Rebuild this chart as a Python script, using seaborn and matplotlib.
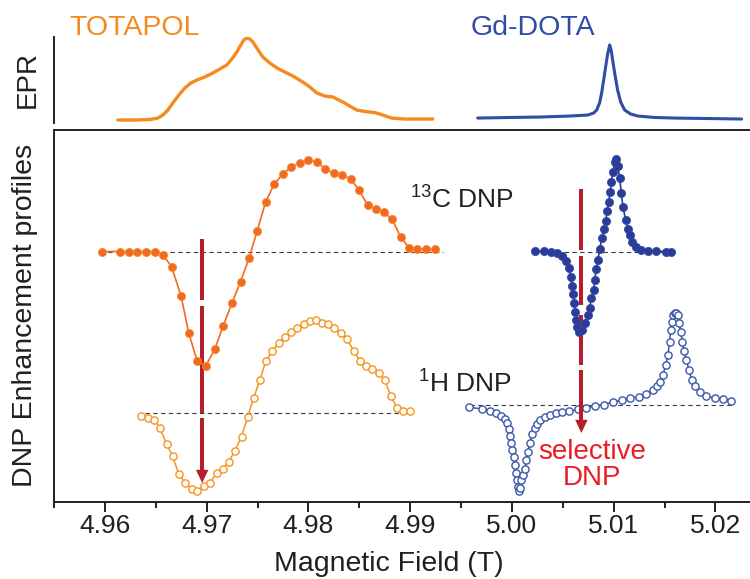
import matplotlib
matplotlib.use("Agg")
import numpy as np
import pandas as pd
import matplotlib.pyplot as plt
from matplotlib.ticker import MultipleLocator, FormatStrFormatter
import seaborn as sns

sns.set_theme(style="white")
plt.rcParams["font.family"] = ["Liberation Sans", "DejaVu Sans"]
plt.rcParams["mathtext.fontset"] = "custom"
plt.rcParams["mathtext.rm"] = "Liberation Sans"
plt.rcParams["mathtext.default"] = "regular"

# ---------------- EPR spectra (normalised intensity) ----------------
epr_totapol_field = [4.96128, 4.96295, 4.96442, 4.96521, 4.96570, 4.96619, 4.96668, 4.96727,
                     4.96786, 4.96845, 4.96904, 4.96982, 4.97061, 4.97130, 4.97198, 4.97248,
                     4.97297, 4.97336, 4.97365, 4.97395, 4.97424, 4.97454, 4.97493, 4.97552,
                     4.97621, 4.97690, 4.97768, 4.97847, 4.97945, 4.98014, 4.98083, 4.98161,
                     4.98240, 4.98338, 4.98407, 4.98475, 4.98554, 4.98652, 4.98731, 4.98819,
                     4.98947, 4.99094, 4.99222]
epr_totapol_int = [-0.012, -0.012, -0.006, 0.012, 0.049, 0.111, 0.198, 0.296, 0.383, 0.444,
                   0.481, 0.519, 0.568, 0.617, 0.667, 0.741, 0.827, 0.914, 0.975, 1.000,
                   0.988, 0.951, 0.877, 0.765, 0.691, 0.630, 0.580, 0.531, 0.457, 0.395,
                   0.321, 0.284, 0.272, 0.210, 0.160, 0.111, 0.093, 0.080, 0.049, 0.012,
                   0.0, 0.0, 0.0]

epr_gd_field = [4.99664, 4.99978, 5.00293, 5.00568, 5.00745, 5.00804, 5.00833, 5.00862,
                5.00882, 5.00902, 5.00921, 5.00941, 5.00961, 5.00975, 5.00990, 5.01010,
                5.01039, 5.01069, 5.01108, 5.01167, 5.01236, 5.01403, 5.01599, 5.01943,
                5.02257]
epr_gd_int = [0.012, 0.019, 0.025, 0.037, 0.049, 0.074, 0.111, 0.198, 0.321, 0.481, 0.642,
              0.802, 0.914, 0.852, 0.728, 0.568, 0.358, 0.210, 0.111, 0.062, 0.037, 0.019,
              0.012, 0.006, 0.0]

# ---------------- DNP enhancement profiles (relative to each baseline) ----------------
c13_totapol_field = [4.95968, 4.96147, 4.96236, 4.96317, 4.96403, 4.96488, 4.96573, 4.96655,
                     4.96749, 4.96825, 4.96907, 4.96992, 4.97081, 4.97162, 4.97248, 4.97333,
                     4.97417, 4.97496, 4.97579, 4.97663, 4.97746, 4.97827, 4.97916, 4.98001,
                     4.98080, 4.98168, 4.98250, 4.98335, 4.98417, 4.98498, 4.98581, 4.98662,
                     4.98741, 4.98822, 4.98908, 4.98989, 4.99072, 4.99160, 4.99242]
c13_totapol_enh = [0.0, 0.0, 0.0, 0.0, 0.0, 0.0, -0.35, -1.52, -4.45, -8.18, -10.95, -11.42,
                   -9.75, -7.45, -5.18, -3.02, -0.68, 2.05, 4.92, 6.72, 7.72, 8.42, 8.88, 9.15,
                   8.98, 8.25, 7.82, 7.65, 7.22, 6.15, 4.65, 4.25, 3.92, 3.25, 1.42, 0.38,
                   0.28, 0.25, 0.22]

h1_totapol_field = [4.96354, 4.96419, 4.96481, 4.96540, 4.96606, 4.96665, 4.96727, 4.96789,
                    4.96852, 4.96907, 4.96972, 4.97031, 4.97097, 4.97156, 4.97218, 4.97277,
                    4.97343, 4.97402, 4.97461, 4.97523, 4.97582, 4.97647, 4.97709, 4.97775,
                    4.97834, 4.97893, 4.97955, 4.98014, 4.98073, 4.98135, 4.98193, 4.98252,
                    4.98318, 4.98380, 4.98446, 4.98505, 4.98564, 4.98626, 4.98691, 4.98750,
                    4.98809, 4.98871, 4.98930, 4.98996]
h1_totapol_enh = [-0.33, -0.50, -0.73, -1.50, -3.13, -4.33, -6.16, -7.00, -7.66, -7.80,
                  -7.33, -7.06, -6.06, -5.63, -4.90, -3.80, -2.40, -0.46, 1.44, 3.27,
                  5.17, 6.17, 7.00, 7.60, 8.10, 8.50, 8.84, 9.17, 9.27, 8.94,
                  8.84, 8.50, 7.94, 7.34, 6.20, 5.17, 4.70, 4.37, 4.00, 3.27,
                  1.67, 0.50, 0.17, 0.17]

c13_gd_field = [5.00231, 5.00312, 5.00381, 5.00443, 5.00496, 5.00535, 5.00561, 5.00578,
                5.00590, 5.00600, 5.00610, 5.00624, 5.00634, 5.00643, 5.00659, 5.00692,
                5.00722, 5.00747, 5.00764, 5.00781, 5.00803, 5.00813, 5.00830, 5.00846,
                5.00862, 5.00885, 5.00902, 5.00921, 5.00938, 5.00951, 5.00967, 5.00977,
                5.00993, 5.01010, 5.01026, 5.01042, 5.01059, 5.01076, 5.01091, 5.01118,
                5.01140, 5.01157, 5.01184, 5.01223, 5.01272, 5.01337, 5.01419, 5.01518,
                5.01560]
c13_gd_enh = [0.05, 0.05, -0.02, -0.12, -0.42, -0.92, -1.68, -2.52, -3.42, -4.28,
              -5.18, -6.02, -6.85, -7.58, -8.02, -7.85, -7.12, -6.35, -5.68, -4.68,
              -3.85, -2.85, -1.78, -0.85, 0.22, 1.32, 2.22, 3.05, 4.05, 4.98,
              5.98, 6.98, 7.98, 8.98, 9.22, 8.55, 7.32, 5.82, 4.48, 3.15,
              2.22, 1.65, 0.98, 0.42, 0.15, 0.05, 0.05, -0.02, -0.08]

h1_gd_field = [4.99579, 4.99710, 4.99782, 4.99848, 4.99890, 4.99929, 4.99956, 4.99971,
               4.99985, 4.99995, 5.00005, 5.00018, 5.00027, 5.00037, 5.00050, 5.00060,
               5.00070, 5.00077, 5.00093, 5.00109, 5.00126, 5.00142, 5.00158, 5.00175,
               5.00201, 5.00224, 5.00250, 5.00280, 5.00322, 5.00371, 5.00430, 5.00496,
               5.00561, 5.00649, 5.00732, 5.00813, 5.00902, 5.00993, 5.01085, 5.01164,
               5.01248, 5.01321, 5.01386, 5.01429, 5.01459, 5.01484, 5.01511, 5.01533,
               5.01550, 5.01560, 5.01570, 5.01582, 5.01599, 5.01616, 5.01629, 5.01641,
               5.01658, 5.01675, 5.01690, 5.01714, 5.01740, 5.01769, 5.01796, 5.01845,
               5.01911, 5.01992, 5.02074, 5.02156]
h1_gd_enh = [-0.20, -0.37, -0.54, -0.74, -1.07, -1.40, -1.80, -2.40, -3.07, -3.80,
             -4.47, -5.14, -5.97, -6.74, -7.47, -8.14, -8.57, -8.30, -7.47, -6.97,
             -6.40, -5.47, -4.64, -3.80, -2.87, -2.30, -1.87, -1.47, -1.14, -0.97,
             -0.80, -0.70, -0.57, -0.40, -0.24, -0.07, 0.06, 0.33, 0.53, 0.73,
             0.83, 1.13, 1.53, 1.93, 2.36, 3.03, 4.03, 5.03, 6.36, 7.53,
             8.36, 9.03, 9.26, 9.26, 9.03, 8.20, 7.36, 6.36, 5.43, 4.53,
             3.53, 2.53, 1.93, 1.36, 0.93, 0.70, 0.63, 0.46]

# selective-DNP field positions (arrows)
field_select_totapol = 4.96956
field_select_gd = 5.00683

x_ticks = [4.96, 4.97, 4.98, 4.99, 5.00, 5.01, 5.02]

# ---------------- styling ----------------
ORANGE_EPR = "#F58A1F"
ORANGE_C13 = "#F26A21"
ORANGE_H1 = "#F7941D"
BLUE_EPR = "#2E4DA3"
BLUE_C13 = "#2A3B98"
BLUE_H1 = "#3A56AA"
RED_ARROW = "#B71E2D"
RED_TEXT = "#EC1C24"
INK = "#231F20"

# vertical offsets of each profile in the lower panel
OFF_C13 = 25.05
OFF_H1_TOTAPOL = 8.93
OFF_H1_GD = 9.67

W, H = 750, 579
fig = plt.figure(figsize=(W / 100, H / 100), dpi=100)
ax_epr = fig.add_axes([54 / W, 1 - 123 / H, 696 / W, 86 / H])
ax = fig.add_axes([54 / W, 1 - 502 / H, 696 / W, 372 / H])

XLIM = (4.955, 5.0234)

# ---- EPR panel ----
sns.lineplot(x=epr_totapol_field, y=epr_totapol_int, ax=ax_epr, color=ORANGE_EPR,
             lw=2.4, estimator=None, sort=False, solid_joinstyle="round")
sns.lineplot(x=epr_gd_field, y=epr_gd_int, ax=ax_epr, color=BLUE_EPR,
             lw=2.2, estimator=None, sort=False, solid_joinstyle="round")
ax_epr.set_xlim(*XLIM)
ax_epr.set_ylim(-0.049, 1.012)
ax_epr.set_xticks([])
ax_epr.set_yticks([])
for s in ["top", "right", "bottom"]:
    ax_epr.spines[s].set_visible(False)
ax_epr.spines["left"].set_color(INK)
ax_epr.spines["left"].set_linewidth(1.4)
ax_epr.patch.set_alpha(0)

# ---- DNP panel ----
def profile(field, enh, offset):
    return pd.DataFrame({"field": field, "signal": np.asarray(enh) + offset})

df_c13_t = profile(c13_totapol_field, c13_totapol_enh, OFF_C13)
df_h1_t = profile(h1_totapol_field, h1_totapol_enh, OFF_H1_TOTAPOL)
df_c13_g = profile(c13_gd_field, c13_gd_enh, OFF_C13)
df_h1_g = profile(h1_gd_field, h1_gd_enh, OFF_H1_GD)

# baselines
dash_kw = dict(color="#3a3a3a", lw=0.8, ls=(0, (4, 3)), zorder=1)
ax.plot([4.95951, 4.99320], [OFF_C13, OFF_C13], **dash_kw)
ax.plot([5.00204, 5.01550], [OFF_C13, OFF_C13], **dash_kw)
ax.plot([4.96393, 4.98964], [OFF_H1_TOTAPOL, OFF_H1_TOTAPOL], **dash_kw)
ax.plot([4.99585, 5.02168], [OFF_H1_GD, OFF_H1_GD], **dash_kw)

# 1H profiles (open circles)
sns.lineplot(data=df_h1_t, x="field", y="signal", ax=ax, color=ORANGE_H1, lw=1.1,
             marker="o", ms=5.2, mfc="white", mec=ORANGE_H1, mew=1.0,
             estimator=None, sort=False, zorder=3)
sns.lineplot(data=df_h1_g, x="field", y="signal", ax=ax, color=BLUE_H1, lw=1.1,
             marker="o", ms=5.2, mfc="white", mec=BLUE_H1, mew=1.0,
             estimator=None, sort=False, zorder=3)

# selective-DNP arrows
def arrow(xpos, segments, head_base, tip):
    for y0, y1 in segments:
        ax.plot([xpos, xpos], [y0, y1], color=RED_ARROW, lw=2.9,
                solid_capstyle="butt", zorder=4)
    ax.annotate("", xy=(xpos, tip), xytext=(xpos, head_base),
                arrowprops=dict(arrowstyle="-|>,head_length=0.95,head_width=0.45",
                                mutation_scale=10, color=RED_ARROW, lw=0,
                                shrinkA=0, shrinkB=0), zorder=4)

arrow(field_select_totapol, [(26.27, 20.2), (19.65, 8.9), (8.4, 3.0)], 3.2, 1.9)
arrow(field_select_gd, [(31.27, 25.2), (24.6, 19.7), (18.7, 13.7), (13.2, 8.0)], 8.2, 6.9)

# 13C profiles (filled circles)
sns.lineplot(data=df_c13_t, x="field", y="signal", ax=ax, color=ORANGE_C13, lw=1.2,
             marker="o", ms=5.8, mfc=ORANGE_C13, mec="#F68B2E", mew=0.6,
             estimator=None, sort=False, zorder=5)
sns.lineplot(data=df_c13_g, x="field", y="signal", ax=ax, color=BLUE_C13, lw=1.2,
             marker="o", ms=5.8, mfc=BLUE_C13, mec="#3347A3", mew=0.6,
             estimator=None, sort=False, zorder=5)

ax.set_xlim(*XLIM)
ax.set_ylim(0, 37.2)
ax.set_yticks([])
ax.set_xticks(x_ticks)
ax.xaxis.set_major_formatter(FormatStrFormatter("%.2f"))
ax.xaxis.set_minor_locator(MultipleLocator(0.005))
ax.tick_params(axis="x", which="major", direction="out", length=7, width=1.4,
               color=INK, labelsize=19, labelcolor=INK, pad=1.5, bottom=True)
ax.tick_params(axis="x", which="minor", direction="out", length=4.5, width=1.4,
               color=INK, bottom=True)
ax.spines["right"].set_visible(False)
for s in ["left", "top", "bottom"]:
    ax.spines[s].set_color(INK)
    ax.spines[s].set_linewidth(1.4)
ax.set_xlabel("")
ax.set_ylabel("")
ax.patch.set_alpha(0)

# annotations
ax.text(4.98996, 29.35, r"$^{13}$C DNP", fontsize=19, color=INK, ha="left", va="baseline")
ax.text(4.99075, 10.9, r"$^{1}$H DNP", fontsize=19, color=INK, ha="left", va="baseline")
ax.text(5.00784, 6.3, "selective\nDNP", fontsize=20, color=RED_TEXT, ha="center",
        va="top", linespacing=1.0)

fig.text(135 / W, 1 - 28 / H, "TOTAPOL", color=ORANGE_EPR, fontsize=20.5,
         ha="center", va="center")
fig.text(533 / W, 1 - 28 / H, "Gd-DOTA", color=BLUE_EPR, fontsize=20.5,
         ha="center", va="center")
fig.text(28 / W, 1 - 80 / H, "EPR", color=INK, fontsize=20, rotation=90,
         ha="center", va="center")
fig.text(25 / W, 1 - 315 / H, "DNP Enhancement profiles", color=INK, fontsize=20.5,
         rotation=90, ha="center", va="center")
fig.text(389 / W, 1 - 571 / H, "Magnetic Field (T)", color=INK, fontsize=20.5,
         ha="center", va="baseline")

fig.savefig("out.png", dpi=100)
